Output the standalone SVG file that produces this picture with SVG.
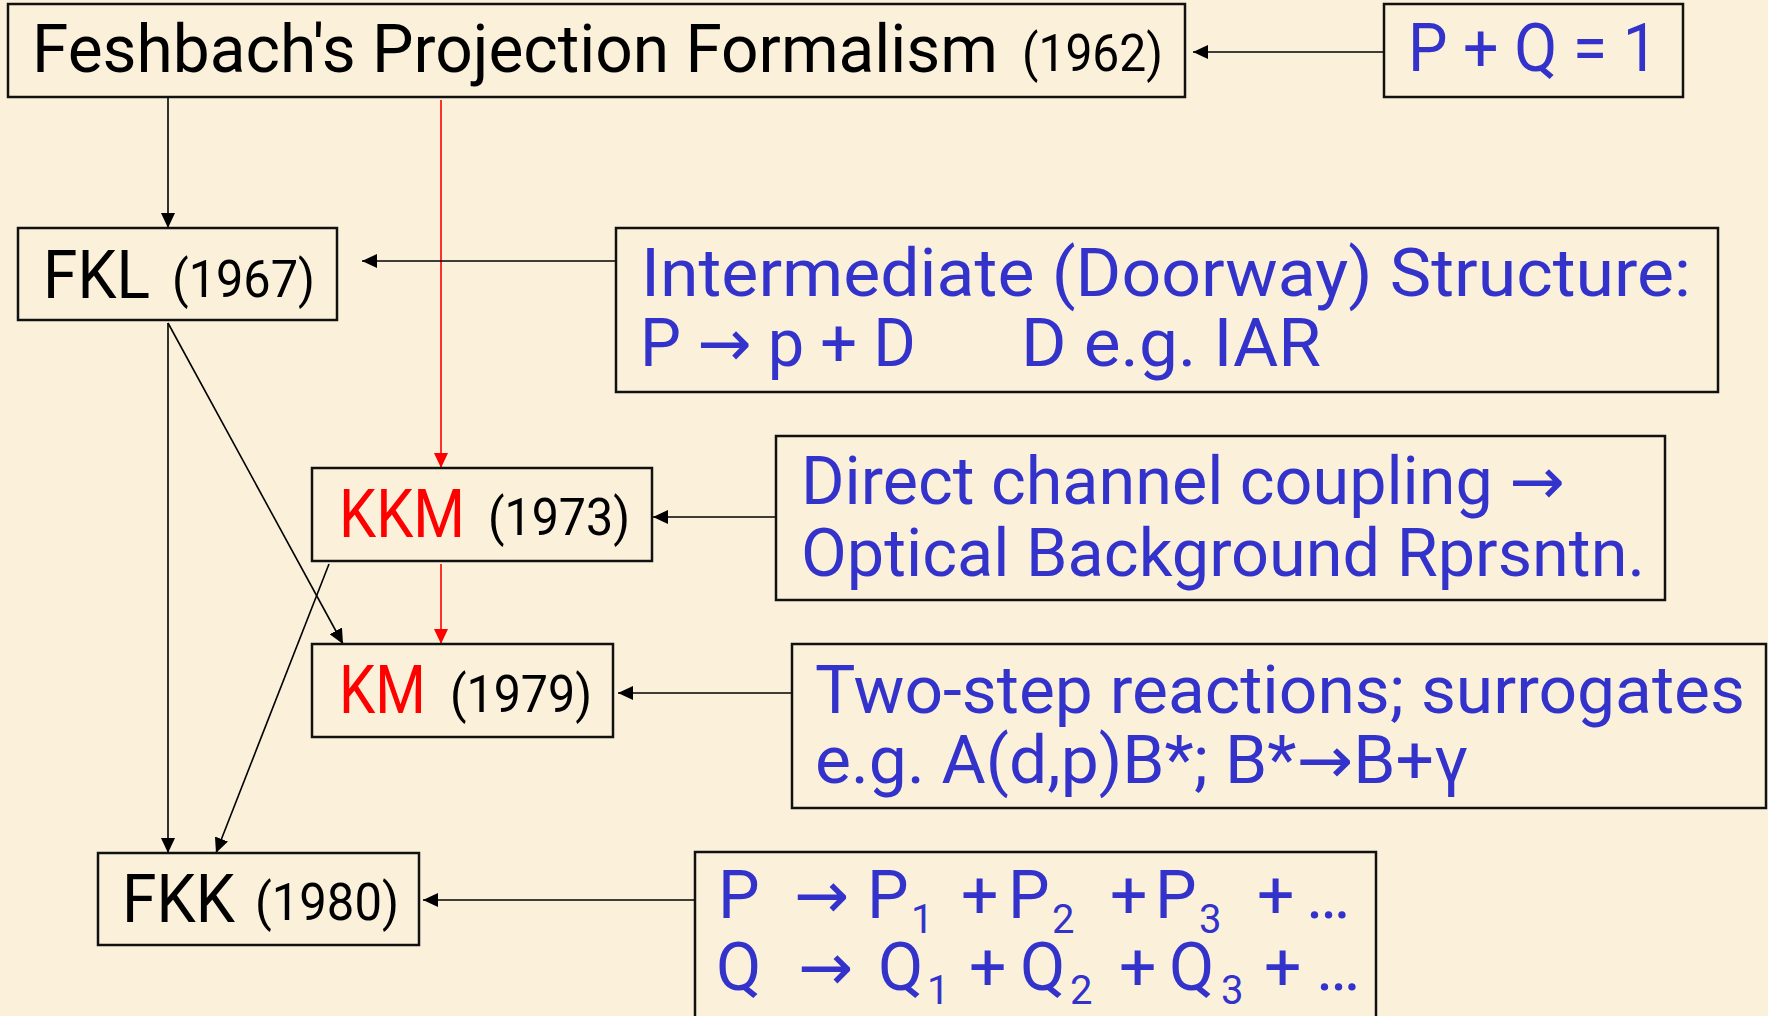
<svg xmlns="http://www.w3.org/2000/svg" width="1768" height="1016" viewBox="0 0 1768 1016">
<style>
text{font-family:Roboto,'DejaVu Sans',sans-serif;fill:#000}
.box{fill:none;stroke:#111;stroke-width:2.5}
.m{font-size:66px}
.y{font-size:52px;fill:#000}
.s{font-size:40px}
.b,.b tspan{fill:#3333CC}
.r{fill:#FF0000}
.c{stroke:#000;stroke-width:1.6;fill:none}
.cr{stroke:#FF0000;stroke-width:1.6;fill:none}
</style>
<defs>
<marker id="ah" markerUnits="userSpaceOnUse" markerWidth="16" markerHeight="14" refX="15" refY="7" orient="auto"><path d="M0,0 L15,7 L0,14 z" fill="#000"/></marker>
<marker id="ahr" markerUnits="userSpaceOnUse" markerWidth="16" markerHeight="14" refX="15" refY="7" orient="auto"><path d="M0,0 L15,7 L0,14 z" fill="#FF0000"/></marker>
</defs>
<rect x="0" y="0" width="1768" height="1016" fill="#FBF1DB"/>

<g id="connectors">
<line class="c" x1="1384" y1="52" x2="1193" y2="52" marker-end="url(#ah)"/>
<line class="c" x1="168" y1="98" x2="168" y2="228" marker-end="url(#ah)"/>
<line class="cr" x1="441" y1="100" x2="441" y2="468" marker-end="url(#ahr)"/>
<line class="c" x1="616" y1="261" x2="362" y2="261" marker-end="url(#ah)"/>
<line class="c" x1="168" y1="323" x2="343" y2="644" marker-end="url(#ah)"/>
<line class="c" x1="168" y1="323" x2="168" y2="853" marker-end="url(#ah)"/>
<line class="c" x1="329" y1="564" x2="216" y2="853" marker-end="url(#ah)"/>
<line class="cr" x1="441" y1="564" x2="441" y2="644" marker-end="url(#ahr)"/>
<line class="c" x1="776" y1="517" x2="653" y2="517" marker-end="url(#ah)"/>
<line class="c" x1="792" y1="693" x2="618" y2="693" marker-end="url(#ah)"/>
<line class="c" x1="695" y1="900" x2="423" y2="900" marker-end="url(#ah)"/>
</g>

<g id="feshbach">
<rect class="box" x="8" y="4" width="1177" height="93"/>
<text><tspan class="m" x="32" y="72" textLength="966" lengthAdjust="spacingAndGlyphs">Feshbach's Projection Formalism</tspan><tspan class="y" x="1022" y="71" textLength="141" lengthAdjust="spacingAndGlyphs">(1962)</tspan></text>
</g>

<g id="pq">
<rect class="box" x="1384" y="4" width="299" height="93"/>
<text class="m b" x="1408" y="71" textLength="250" lengthAdjust="spacingAndGlyphs">P + Q = 1</text>
</g>

<g id="fkl">
<rect class="box" x="18" y="228" width="319" height="92"/>
<text><tspan class="m" x="43" y="298" textLength="107" lengthAdjust="spacingAndGlyphs">FKL</tspan><tspan class="y" x="172" y="297" textLength="143" lengthAdjust="spacingAndGlyphs">(1967)</tspan></text>
</g>

<g id="intermediate">
<rect class="box" x="616" y="228" width="1102" height="164"/>
<text class="m b"><tspan x="641" y="296" textLength="1050" lengthAdjust="spacingAndGlyphs">Intermediate (Doorway) Structure:</tspan><tspan x="640" y="366" textLength="276" lengthAdjust="spacingAndGlyphs">P → p + D</tspan><tspan x="1021" y="366" textLength="300" lengthAdjust="spacingAndGlyphs">D e.g. IAR</tspan></text>
</g>

<g id="kkm">
<rect class="box" x="312" y="468" width="340" height="93"/>
<text><tspan class="m r" x="339" y="537" textLength="126" lengthAdjust="spacingAndGlyphs">KKM</tspan><tspan class="y" x="488" y="535" textLength="142" lengthAdjust="spacingAndGlyphs">(1973)</tspan></text>
</g>

<g id="direct">
<rect class="box" x="776" y="436" width="889" height="164"/>
<text class="m b"><tspan x="801" y="504" textLength="764" lengthAdjust="spacingAndGlyphs">Direct channel coupling →</tspan><tspan x="801" y="576" textLength="844" lengthAdjust="spacingAndGlyphs">Optical Background Rprsntn.</tspan></text>
</g>

<g id="km">
<rect class="box" x="312" y="644" width="301" height="93"/>
<text><tspan class="m r" x="339" y="713" textLength="87" lengthAdjust="spacingAndGlyphs">KM</tspan><tspan class="y" x="450" y="712" textLength="142" lengthAdjust="spacingAndGlyphs">(1979)</tspan></text>
</g>

<g id="twostep">
<rect class="box" x="792" y="644" width="974" height="164"/>
<text class="m b"><tspan x="815" y="713" textLength="930" lengthAdjust="spacingAndGlyphs">Two-step reactions; surrogates</tspan><tspan x="815" y="783" textLength="653" lengthAdjust="spacingAndGlyphs">e.g. A(d,p)B*; B*→B+γ</tspan></text>
</g>

<g id="fkk">
<rect class="box" x="98" y="853" width="321" height="92"/>
<text><tspan class="m" x="122" y="922" textLength="113" lengthAdjust="spacingAndGlyphs">FKK</tspan><tspan class="y" x="255" y="920" textLength="144" lengthAdjust="spacingAndGlyphs">(1980)</tspan></text>
</g>

<g id="decomposition">
<rect class="box" x="695" y="852" width="681" height="168"/>
<text class="m b"><tspan x="718" y="918">P</tspan><tspan x="794" y="918">→</tspan><tspan x="867" y="918">P</tspan><tspan class="s" x="911" y="933">1</tspan><tspan x="961" y="918">+</tspan><tspan x="1008" y="918">P</tspan><tspan class="s" x="1052" y="933">2</tspan><tspan x="1110" y="918">+</tspan><tspan x="1155" y="918">P</tspan><tspan class="s" x="1199" y="933">3</tspan><tspan x="1257" y="918">+</tspan><tspan x="1306" y="918">…</tspan><tspan x="716" y="990">Q</tspan><tspan x="798" y="990">→</tspan><tspan x="878" y="990">Q</tspan><tspan class="s" x="927" y="1004">1</tspan><tspan x="969" y="990">+</tspan><tspan x="1020" y="990">Q</tspan><tspan class="s" x="1070" y="1004">2</tspan><tspan x="1119" y="990">+</tspan><tspan x="1169" y="990">Q</tspan><tspan class="s" x="1221" y="1004">3</tspan><tspan x="1264" y="990">+</tspan><tspan x="1316" y="990">…</tspan></text>
</g>
</svg>
